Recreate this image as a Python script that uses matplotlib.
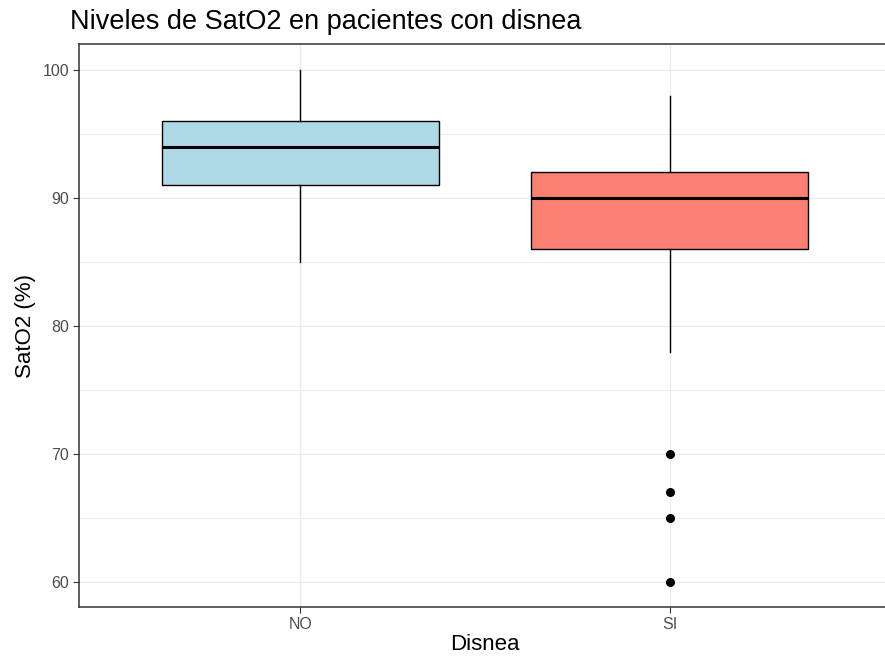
import matplotlib.pyplot as plt
from matplotlib.ticker import MultipleLocator

plt.rcParams['font.family'] = ['Liberation Sans', 'DejaVu Sans']

groups = ['NO', 'SI']
whislo = [85, 78]
q1 = [91, 86]
med = [94, 90]
q3 = [96, 92]
whishi = [100, 98]
fliers = [[], [70, 67, 65, 60]]
colors = ['#ADD8E6', '#FA8072']

fig = plt.figure(figsize=(8.85, 6.66), dpi=100)
W, H = 885, 666
ax = fig.add_axes([79 / W, (H - 607) / H, (891 - 79) / W, (607 - 44) / H])

stats = []
for i, g in enumerate(groups):
    stats.append(dict(label=g, whislo=whislo[i], q1=q1[i], med=med[i],
                      q3=q3[i], whishi=whishi[i], fliers=fliers[i]))

bp = ax.bxp(stats, positions=[1, 2], widths=0.75, patch_artist=True,
            showcaps=False,
            boxprops=dict(linewidth=1.0, edgecolor='black'),
            medianprops=dict(color='black', linewidth=2.2),
            whiskerprops=dict(color='black', linewidth=1.0),
            flierprops=dict(marker='o', markerfacecolor='black',
                            markeredgecolor='black', markersize=5.5))
for patch, c in zip(bp['boxes'], colors):
    patch.set_facecolor(c)
    patch.set_zorder(3)
for k in ['medians', 'whiskers', 'fliers']:
    for a in bp[k]:
        a.set_zorder(4)

ax.set_xlim(0.4, 2.6)
ax.set_ylim(58.05, 102.03)
ax.yaxis.set_major_locator(MultipleLocator(10))
ax.yaxis.set_minor_locator(MultipleLocator(5))
ax.grid(True, which='major', color='#EBEBEB', linewidth=1.0, zorder=0)
ax.grid(True, which='minor', axis='y', color='#EBEBEB', linewidth=0.6, zorder=0)
ax.set_axisbelow(True)
ax.tick_params(which='minor', length=0)
ax.tick_params(which='major', length=4, width=0.8, color='#333333',
               labelcolor='#4D4D4D', labelsize=11.5, pad=3)
for s in ax.spines.values():
    s.set_color('#333333')
    s.set_linewidth(1.1)

ax.set_xlabel('Disnea', fontsize=16, labelpad=2)
ax.set_ylabel('SatO2 (%)', fontsize=16, labelpad=5)
fig.text(70 / W, 1 - 29 / H, 'Niveles de SatO2 en pacientes con disnea',
         fontsize=19.5, ha='left', va='baseline')

fig.savefig('out.png', dpi=100)
